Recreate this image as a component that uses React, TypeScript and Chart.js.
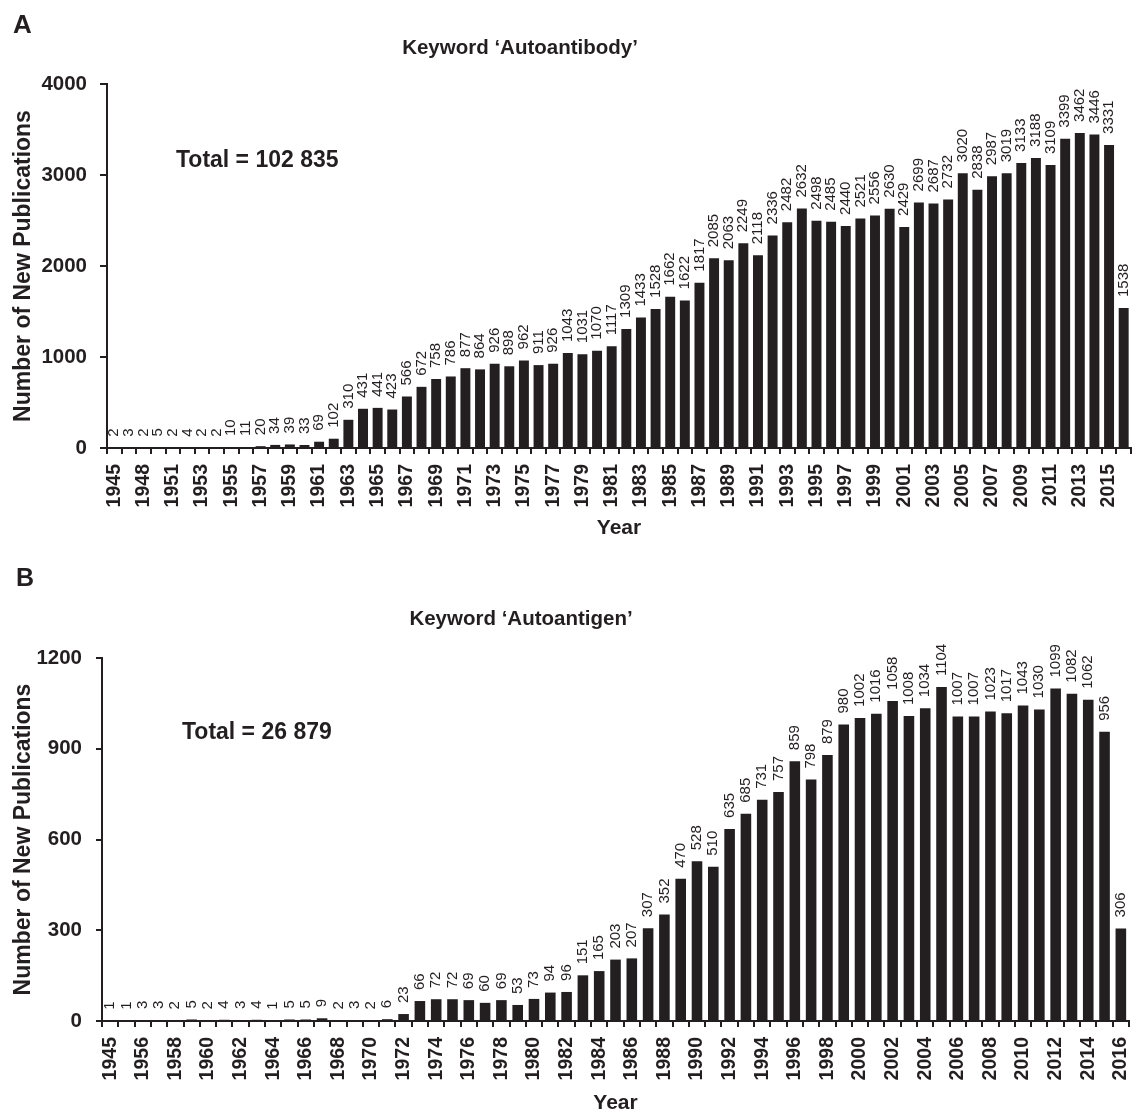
import React, { useEffect, useRef } from 'react';
import { Chart, registerables } from 'chart.js';

Chart.register(...registerables);

const FONT = "'Liberation Sans', Arial, Helvetica, sans-serif";
const INK = '#231f20';

// ---------- Panel A: keyword 'Autoantibody' ----------
const yearsA = [
  '1945', '1947', '1948', '1950', '1951', '1952', '1953', '1954', '1955', '1956',
  '1957', '1958', '1959', '1960', '1961', '1962', '1963', '1964', '1965', '1966',
  '1967', '1968', '1969', '1970', '1971', '1972', '1973', '1974', '1975', '1976',
  '1977', '1978', '1979', '1980', '1981', '1982', '1983', '1984', '1985', '1986',
  '1987', '1988', '1989', '1990', '1991', '1992', '1993', '1994', '1995', '1996',
  '1997', '1998', '1999', '2000', '2001', '2002', '2003', '2004', '2005', '2006',
  '2007', '2008', '2009', '2010', '2011', '2012', '2013', '2014', '2015', '2016',
];
const countsA = [
  2, 3, 2, 5, 2, 4, 2, 2, 10, 11,
  20, 34, 39, 33, 69, 102, 310, 431, 441, 423,
  566, 672, 758, 786, 877, 864, 926, 898, 962, 911,
  926, 1043, 1031, 1070, 1117, 1309, 1433, 1528, 1662, 1622,
  1817, 2085, 2063, 2249, 2118, 2336, 2482, 2632, 2498, 2485,
  2440, 2521, 2556, 2630, 2429, 2699, 2687, 2732, 3020, 2838,
  2987, 3019, 3133, 3188, 3109, 3399, 3462, 3446, 3331, 1538,
];
const yTicksA = { max: 4000, step: 1000 };
const titleA = 'Keyword \u2018Autoantibody\u2019';
const totalA = 'Total = 102 835';

// ---------- Panel B: keyword 'Autoantigen' ----------
const yearsB = [
  '1945', '1955', '1956', '1957', '1958', '1959', '1960', '1961', '1962', '1963',
  '1964', '1965', '1966', '1967', '1968', '1969', '1970', '1971', '1972', '1973',
  '1974', '1975', '1976', '1977', '1978', '1979', '1980', '1981', '1982', '1983',
  '1984', '1985', '1986', '1987', '1988', '1989', '1990', '1991', '1992', '1993',
  '1994', '1995', '1996', '1997', '1998', '1999', '2000', '2001', '2002', '2003',
  '2004', '2005', '2006', '2007', '2008', '2009', '2010', '2011', '2012', '2013',
  '2014', '2015', '2016',
];
const countsB = [
  1, 1, 3, 3, 2, 5, 2, 4, 3, 4,
  1, 5, 5, 9, 2, 3, 2, 6, 23, 66,
  72, 72, 69, 60, 69, 53, 73, 94, 96, 151,
  165, 203, 207, 307, 352, 470, 528, 510, 635, 685,
  731, 757, 859, 798, 879, 980, 1002, 1016, 1058, 1008,
  1034, 1104, 1007, 1007, 1023, 1017, 1043, 1030, 1099, 1082,
  1062, 956, 306,
];
const yTicksB = { max: 1200, step: 300 };
const titleB = 'Keyword \u2018Autoantigen\u2019';
const totalB = 'Total = 26 879';

const xTitle = 'Year';
const yTitle = 'Number of New Publications';

type PanelGeom = {
  height: number;
  padTop: number;
  padRight: number;
  yWidth: number;
  xHeight: number;
  yTickLen: number;
  yTickPad: number;
  yearPad: number;
  barPct: number;
};

const barValueLabels = {
  id: 'barValueLabels',
  afterDatasetsDraw(chart: any) {
    const ctx = chart.ctx;
    const meta = chart.getDatasetMeta(0);
    const data = chart.data.datasets[0].data;
    ctx.save();
    ctx.fillStyle = INK;
    ctx.font = `15px ${FONT}`;
    ctx.textAlign = 'left';
    ctx.textBaseline = 'middle';
    meta.data.forEach((bar: any, i: number) => {
      ctx.save();
      ctx.translate(bar.x, bar.y - 11);
      ctx.rotate(-Math.PI / 2);
      ctx.fillText(String(data[i]), 0, 0);
      ctx.restore();
    });
    ctx.restore();
  },
};

function buildChart(
  canvas: HTMLCanvasElement,
  labels: string[],
  values: number[],
  yt: { max: number; step: number },
  g: PanelGeom,
) {
  return new Chart(canvas, {
    type: 'bar',
    data: {
      labels,
      datasets: [
        {
          data: values,
          backgroundColor: INK,
          borderWidth: 0,
          barPercentage: g.barPct,
          categoryPercentage: 1,
        },
      ],
    },
    options: {
      animation: false,
      responsive: false,
      maintainAspectRatio: false,
      layout: { padding: { top: g.padTop, right: g.padRight, left: 0, bottom: 0 } },
      plugins: {
        legend: { display: false },
        tooltip: { enabled: false },
        title: { display: false },
      },
      scales: {
        x: {
          grid: {
            display: true,
            drawOnChartArea: false,
            drawTicks: true,
            tickLength: 6,
            color: INK,
            lineWidth: 2,
            offset: true,
          },
          border: { display: true, color: INK, width: 2 },
          ticks: {
            autoSkip: false,
            maxRotation: 90,
            minRotation: 90,
            padding: 10,
            color: INK,
            font: { family: FONT, size: 19.5, weight: 'bold' },
            callback: function (this: any, v: any, i: number) {
              return i % 2 === 0 ? this.getLabelForValue(v) : '';
            },
          },
          title: {
            display: true,
            text: xTitle,
            color: INK,
            font: { family: FONT, size: 21, weight: 'bold' },
            padding: { top: 0, bottom: g.yearPad },
          },
          afterFit: (s: any) => {
            s.height = g.xHeight;
            s.paddingLeft = 0;
            s.paddingRight = 0;
          },
        },
        y: {
          min: 0,
          max: yt.max,
          grid: {
            drawOnChartArea: false,
            drawTicks: true,
            tickLength: g.yTickLen,
            color: INK,
            lineWidth: 2,
          },
          border: { display: true, color: INK, width: 2 },
          ticks: {
            stepSize: yt.step,
            padding: g.yTickPad,
            color: INK,
            font: { family: FONT, size: 20.5, weight: 'bold' },
            callback: (v: any) => String(v),
          },
          title: {
            display: true,
            text: yTitle,
            color: INK,
            font: { family: FONT, size: 23, weight: 'bold' },
            padding: { top: 10, bottom: 0 },
          },
          afterFit: (s: any) => {
            s.width = g.yWidth;
            s.paddingTop = 0;
            s.paddingBottom = 0;
          },
        },
      },
    } as any,
    plugins: [barValueLabels],
  });
}

const geomA: PanelGeom = {
  height: 555,
  padTop: 84,
  padRight: 2,
  yWidth: 107,
  xHeight: 555 - 448,
  yTickLen: 7,
  yTickPad: 13,
  yearPad: 14,
  barPct: 0.68,
};

const geomB: PanelGeom = {
  height: 570,
  padTop: 103,
  padRight: 4,
  yWidth: 102,
  xHeight: 570 - 466,
  yTickLen: 6,
  yTickPad: 14,
  yearPad: 9,
  barPct: 0.65,
};

function Txt(props: {
  text: string;
  left?: number;
  centerX?: number;
  baseline: number;
  size: number;
}) {
  const top = props.baseline - 0.8465 * props.size;
  const style: React.CSSProperties = {
    position: 'absolute',
    top,
    fontFamily: FONT,
    fontWeight: 'bold',
    fontSize: props.size,
    lineHeight: 1,
    color: INK,
    whiteSpace: 'nowrap',
  };
  if (props.centerX !== undefined) {
    style.left = props.centerX;
    style.transform = 'translateX(-50%)';
  } else {
    style.left = props.left;
  }
  return <div style={style}>{props.text}</div>;
}

export default function App() {
  const refA = useRef<HTMLCanvasElement>(null);
  const refB = useRef<HTMLCanvasElement>(null);

  useEffect(() => {
    const a = buildChart(refA.current!, yearsA, countsA, yTicksA, geomA);
    const b = buildChart(refB.current!, yearsB, countsB, yTicksB, geomB);
    return () => {
      a.destroy();
      b.destroy();
    };
  }, []);

  return (
    <div
      style={{
        position: 'absolute',
        left: 0,
        top: 0,
        width: 1133,
        height: 1111,
        overflow: 'hidden',
        background: '#ffffff',
      }}
    >
      <canvas
        ref={refA}
        width={1133}
        height={geomA.height}
        style={{ position: 'absolute', left: 0, top: 0 }}
      />
      <canvas
        ref={refB}
        width={1133}
        height={geomB.height}
        style={{ position: 'absolute', left: 0, top: 555 }}
      />
      <Txt text="A" left={13} baseline={33} size={26} />
      <Txt text={titleA} centerX={520} baseline={54} size={20.5} />
      <Txt text={totalA} left={176} baseline={167} size={23} />
      <Txt text="B" left={16} baseline={586} size={25} />
      <Txt text={titleB} centerX={521} baseline={625} size={20.5} />
      <Txt text={totalB} left={182} baseline={739} size={23} />
    </div>
  );
}
